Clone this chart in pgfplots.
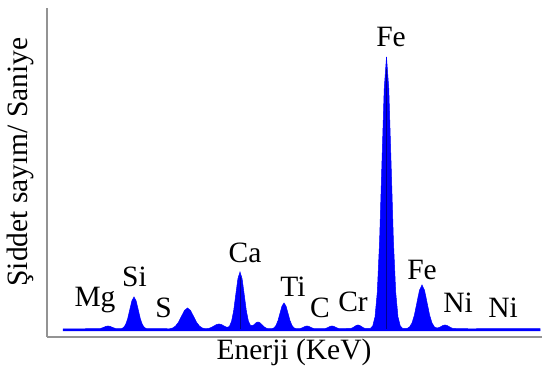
\documentclass[border=0pt]{standalone}
\usepackage{pgfplots}
\pgfplotsset{compat=1.18}
\usepackage{fontspec}
\setmainfont{Liberation Serif}
\newcommand\lf{\fontsize{29.5}{32}\selectfont}
\begin{document}
\begin{tikzpicture}[x=1pt,y=1pt]
\useasboundingbox (0,0) rectangle (542,371);
\begin{axis}[
  at={(47pt,34pt)}, anchor=south west,
  scale only axis, width=495pt, height=329pt,
  xmin=47, xmax=542, ymin=0, ymax=329,
  axis lines=left, axis line style={draw=gray!85, line width=2pt, -},
  xtick=\empty, ytick=\empty,
  clip=false,
  xlabel={Enerji (KeV)}, ylabel={Şiddet sayım/ Saniye},
  xlabel style={at={(axis description cs:0.499,-0.047)}, anchor=center, font=\lf},
  ylabel style={at={(axis description cs:-0.0545,0.532)}, anchor=center, rotate=0, font=\lf},
]
\addplot[draw=blue, fill=blue, line width=0.5pt] coordinates {
(63,6) (63,8)
(100,8.4) (102,9.0) (104,9.8) (106,10.6) (108,11) (110,10.6) (112,9.8) (114,9.0) (116,8.4)
(121.4,8.36) (123.5,9.40) (125.6,12.33) (127.7,18.39) (129.8,27.41) (131.9,36.24) (134,40) (136.1,36.24) (138.2,27.41) (140.3,18.39) (142.4,12.33) (144.5,9.40) (146.6,8.36)
(169.5,8.23) (172.5,8.92) (175.5,10.84) (178.5,14.82) (181.5,20.74) (184.5,26.53) (187.5,29) (190.5,26.53) (193.5,20.74) (196.5,14.82) (199.5,10.84) (202.5,8.92) (205.5,8.23)
(209,8.68) (211.5,9.62) (214,11.03) (216.5,12.41) (219,13) (221.5,12.41) (224,11.03) (226.5,9.8)
(228.2,9.9) (229.5,10.8) (231.6,15.71) (233.7,26.51) (235.8,42.57) (237.9,58.30) (240,65) (242.1,58.30) (244.2,42.57) (246.3,26.51) (248.4,15.71) (250.5,11.7)
(252.6,11.4) (254,12.25) (256,14.18) (258,15) (260,14.18) (262,12.25) (264,10.27) (266,8.95) (268,8.3)
(272,8.29) (274,9.14) (276,11.52) (278,16.44) (280,23.77) (282,30.95) (284,34) (286,30.95) (288,23.77) (290,16.44) (292,11.52) (294,9.14) (296,8.29)
(300,8.41) (301.75,8.97) (303.5,9.82) (305.25,10.65) (307,11) (308.75,10.65) (310.5,9.82) (312.25,8.97) (314,8.41)
(325,8.41) (326.75,8.97) (328.5,9.82) (330.25,10.65) (332,11) (333.75,10.65) (335.5,9.82) (337.25,8.97) (339,8.41)
(351,8.54) (352.75,9.30) (354.5,10.43) (356.25,11.53) (358,12) (359.75,11.53) (361.5,10.43) (363.25,9.30) (365,8.54)
(370.4,8.6) (372.7,11.02) (375,19.94) (377.3,44.80) (379.6,96.32) (381.9,172.97) (384.2,248.04) (386.5,280) (388.8,248.04) (391.1,172.97) (393.4,96.32) (395.7,44.80) (398,19.94) (400.3,11.02) (402.6,8.6)
(407,8.49) (409.5,9.93) (412,13.95) (414.5,22.29) (417,34.69) (419.5,46.83) (422,52) (424.5,46.83) (427,34.69) (429.5,22.29) (432,13.95) (434.5,9.93) (437,9.0)
(439,9.4) (441,10.43) (443,11.53) (445,12) (447,11.53) (449,10.43) (451,9.30) (453,8.54)
(470,8.2) (500,8.4) (540,8.4) (540,6)
} -- cycle;
\addplot[draw=blue!55!black, line width=0.5pt] coordinates {(386.5,8) (386.5,268)};
\addplot[draw=blue!55!black, line width=0.4pt] coordinates {(240,8) (240,60)};
\node[anchor=base] at (axis cs:95,30) {\lf Mg};
\node[anchor=base] at (axis cs:134.5,50) {\lf Si};
\node[anchor=base] at (axis cs:163.5,19) {\lf S};
\node[anchor=base] at (axis cs:245,74) {\lf Ca};
\node[anchor=base] at (axis cs:293,40) {\lf Ti};
\node[anchor=base] at (axis cs:320,19) {\lf C};
\node[anchor=base] at (axis cs:353,25) {\lf Cr};
\node[anchor=base] at (axis cs:391,290) {\lf Fe};
\node[anchor=base] at (axis cs:422,57) {\lf Fe};
\node[anchor=base] at (axis cs:458,24) {\lf Ni};
\node[anchor=base] at (axis cs:503,19) {\lf Ni};
\end{axis}
\end{tikzpicture}
\end{document}
